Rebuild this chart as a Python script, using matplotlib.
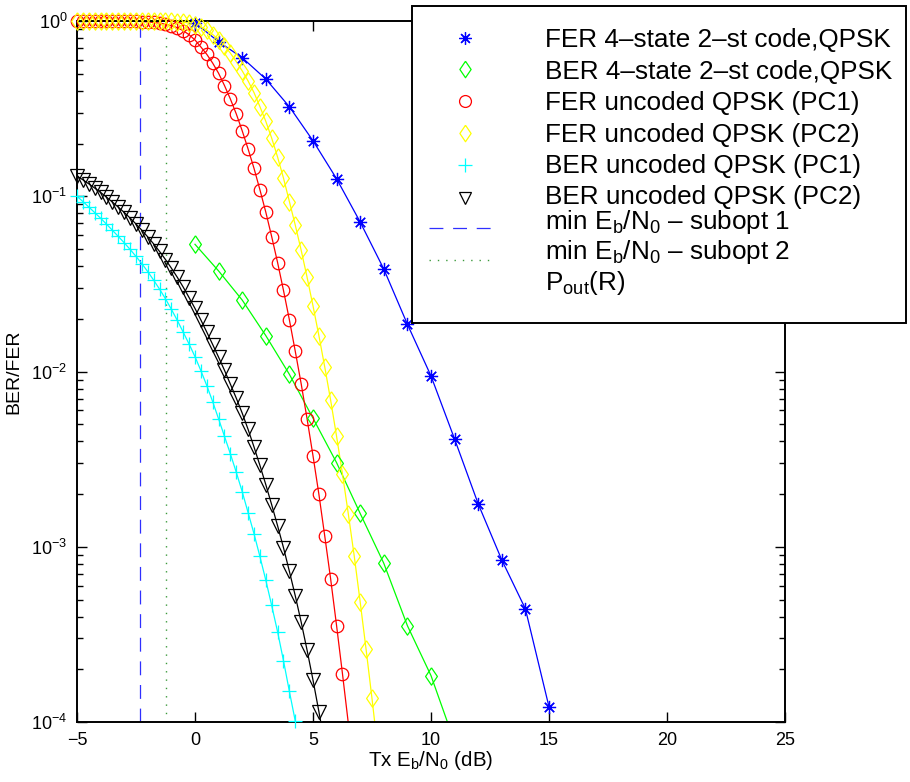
import numpy as np
import matplotlib
matplotlib.use('Agg')
import matplotlib.pyplot as plt
from matplotlib.lines import Line2D
from matplotlib.patches import Rectangle

plt.rcParams['font.family'] = ['Liberation Sans', 'DejaVu Sans']
plt.rcParams['mathtext.fontset'] = 'custom'
plt.rcParams['mathtext.rm'] = 'Liberation Sans'
plt.rcParams['mathtext.it'] = 'Liberation Sans:italic'
plt.rcParams['mathtext.default'] = 'regular'
plt.rcParams['lines.scale_dashes'] = False

# Eb/N0 sweep (dB), quarter-dB grid used by the uncoded curves
ebn0_quarter = [-5.0, -4.75, -4.5, -4.25, -4.0, -3.75, -3.5, -3.25, -3.0, -2.75,
                -2.5, -2.25, -2.0, -1.75, -1.5, -1.25, -1.0, -0.75, -0.5, -0.25,
                0.0, 0.25, 0.5, 0.75, 1.0, 1.25, 1.5, 1.75, 2.0, 2.25,
                2.5, 2.75, 3.0, 3.25, 3.5, 3.75, 4.0, 4.25, 4.5, 4.75,
                5.0, 5.25, 5.5, 5.75, 6.0, 6.25, 6.5, 6.75, 7.0, 7.25,
                7.5, 7.75]
# coded system, 1 dB grid
ebn0_coded = [0, 1, 2, 3, 4, 5, 6, 7, 8, 9, 10, 11, 12, 13, 14, 15]
ebn0_coded_ber = [0, 1, 2, 3, 4, 5, 6, 7, 8, 9, 10, 11]

# values, stored as log10(error rate)
fer_code_log = [-0.01, -0.118, -0.209, -0.331, -0.489, -0.683, -0.90, -1.147,
                -1.415, -1.73, -2.025, -2.385, -2.755, -3.075, -3.354, -3.913]
ber_code_log = [-1.274, -1.426, -1.592, -1.795, -2.016, -2.266, -2.52, -2.81,
                -3.094, -3.45, -3.735, -4.115]
fer_pc1_log = [0, 0, 0, 0, 0, 0, 0, 0, -0.001, -0.001,
               -0.002, -0.003, -0.005, -0.008, -0.012, -0.018, -0.026, -0.038, -0.055, -0.078,
               -0.108, -0.148, -0.190, -0.240, -0.298, -0.368, -0.445, -0.530, -0.626, -0.730,
               -0.840, -0.962, -1.090, -1.230, -1.378, -1.537, -1.705, -1.885, -2.070, -2.270,
               -2.480, -2.700, -2.940, -3.185, -3.450, -3.725, -4.010]
fer_pc2_log = [0, 0, 0, 0, 0, 0, 0, 0, 0, 0,
               0, 0, 0, 0, 0, 0, -0.001, -0.003, -0.006, -0.012,
               -0.020, -0.033, -0.052, -0.077, -0.106, -0.142, -0.183, -0.232, -0.284, -0.342,
               -0.408, -0.488, -0.572, -0.668, -0.776, -0.896, -1.030, -1.165, -1.308, -1.462,
               -1.625, -1.795, -1.975, -2.165, -2.370, -2.585, -2.815, -3.055, -3.315, -3.585,
               -3.865, -4.160]
ber_pc1_log = [-1.000, -1.030, -1.061, -1.093, -1.125, -1.159, -1.194, -1.229, -1.265, -1.303,
               -1.343, -1.385, -1.430, -1.479, -1.530, -1.585, -1.645, -1.708, -1.775, -1.843,
               -1.915, -1.995, -2.080, -2.172, -2.270, -2.370, -2.470, -2.575, -2.685, -2.805,
               -2.925, -3.055, -3.190, -3.335, -3.485, -3.650, -3.825, -3.995, -4.185]
ber_pc2_log = [-0.884, -0.906, -0.929, -0.953, -0.978, -1.005, -1.033, -1.062, -1.092, -1.124,
               -1.158, -1.194, -1.232, -1.272, -1.315, -1.361, -1.410, -1.462, -1.518, -1.578,
               -1.640, -1.706, -1.775, -1.846, -1.918, -1.993, -2.072, -2.152, -2.237, -2.330,
               -2.430, -2.535, -2.645, -2.760, -2.880, -3.005, -3.140, -3.280, -3.430, -3.590,
               -3.760, -3.940, -4.130]

min_ebn0 = [-2.35, -1.24]

labels = ['FER 4–state 2–st code,QPSK', 'BER 4–state 2–st code,QPSK',
          'FER uncoded QPSK (PC1)', 'FER uncoded QPSK (PC2)',
          'BER uncoded QPSK (PC1)', 'BER uncoded QPSK (PC2)',
          r'min E$_b$/N$_0$ – subopt 1', r'min E$_b$/N$_0$ – subopt 2',
          r'P$_{out}$(R)']

# matlab-ish diamond (taller than wide)
diamond = [(0, 1), (0.68, 0), (0, -1), (-0.68, 0), (0, 1)]
star = (8, 2, 0)

series = [
    (ebn0_coded, fer_code_log, '#0000ff', star, 9.5),
    (ebn0_coded_ber, ber_code_log, '#00ff00', diamond, 12.5),
    (ebn0_quarter, fer_pc1_log, '#ff0000', 'o', 9),
    (ebn0_quarter, fer_pc2_log, '#ffff00', diamond, 12.5),
    (ebn0_quarter, ber_pc1_log, '#00ffff', '+', 10),
    (ebn0_quarter, ber_pc2_log, '#000000', 'v', 9.5),
]
dash_style = (0, (10, 7))
dot_style = (0, (1.0, 5.0))
dash_col = '#2f2fff'
dot_col = '#3c9a3c'

fig = plt.figure(figsize=(9.1, 7.82), dpi=100)
ax = fig.add_axes([0.0846, 0.0767, 0.778, 0.8964])

for xs, ylog, col, mk, ms in series:
    x = np.array(xs[:len(ylog)], dtype=float)
    y = 10.0 ** np.array(ylog)
    ax.plot(x, y, '-', color=col, lw=0.9, zorder=2)
    inside = y >= 1e-4
    ax.plot(x[inside], y[inside], linestyle='none', marker=mk, markersize=ms,
            markerfacecolor='none', markeredgecolor=col, markeredgewidth=0.9,
            clip_on=False, zorder=3)

ax.axvline(min_ebn0[0], color=dash_col, lw=0.9, linestyle=dash_style, zorder=1)
ax.axvline(min_ebn0[1], color=dot_col, lw=1.0, linestyle=dot_style, zorder=1)

ax.set_yscale('log')
ax.set_xlim(-5, 25)
ax.set_ylim(1e-4, 1)
ax.set_xticks([-5, 0, 5, 10, 15, 20, 25])
ax.set_yticks([1e-4, 1e-3, 1e-2, 1e-1, 1])
ax.set_yticklabels([r'10$^{-4}$', r'10$^{-3}$', r'10$^{-2}$', r'10$^{-1}$', r'10$^{0}$'])
ax.tick_params(which='both', direction='in', top=True, right=True, labelsize=13)
ax.tick_params(which='major', length=7, width=1.0, pad=7)
ax.tick_params(which='minor', length=4, width=1.0)
for s in ax.spines.values():
    s.set_linewidth(1.4)

ax.set_xlabel(r'Tx E$_b$/N$_0$ (dB)', fontsize=14.8, labelpad=0)
ax.set_ylabel('BER/FER', fontsize=14, labelpad=6)

# legend box drawn by hand so the rows keep MATLAB's fixed spacing
W, H = 910.0, 782.0
def fx(px):
    return px / W
def fy(py):
    return 1 - py / H

fig.patches.append(Rectangle((fx(412), fy(323)), fx(906) - fx(412), fy(6) - fy(323),
                             transform=fig.transFigure, facecolor='white',
                             edgecolor='black', linewidth=1.4, zorder=5))
handle_y = [38, 69, 101, 133, 165, 198, 228, 260]
text_base = [47, 79, 110, 142, 173, 204, 229, 259, 290]
for i, (xs, ylog, col, mk, ms) in enumerate(series):
    fig.lines.append(Line2D([fx(465)], [fy(handle_y[i])], transform=fig.transFigure,
                            linestyle='none', marker=mk, markersize=ms * 0.95,
                            markerfacecolor='none', markeredgecolor=col,
                            markeredgewidth=0.9, zorder=6))
fig.lines.append(Line2D([fx(429), fx(494)], [fy(handle_y[6])] * 2, transform=fig.transFigure,
                        color=dash_col, lw=0.9, linestyle=dash_style, zorder=6))
fig.lines.append(Line2D([fx(429), fx(494)], [fy(handle_y[7])] * 2, transform=fig.transFigure,
                        color=dot_col, lw=1.0, linestyle=dot_style, zorder=6))
for i, lab in enumerate(labels):
    fig.text(fx(545), fy(text_base[i]), lab, fontsize=18.8, va='baseline', ha='left',
             zorder=7)

fig.savefig('out.png', dpi=100)
